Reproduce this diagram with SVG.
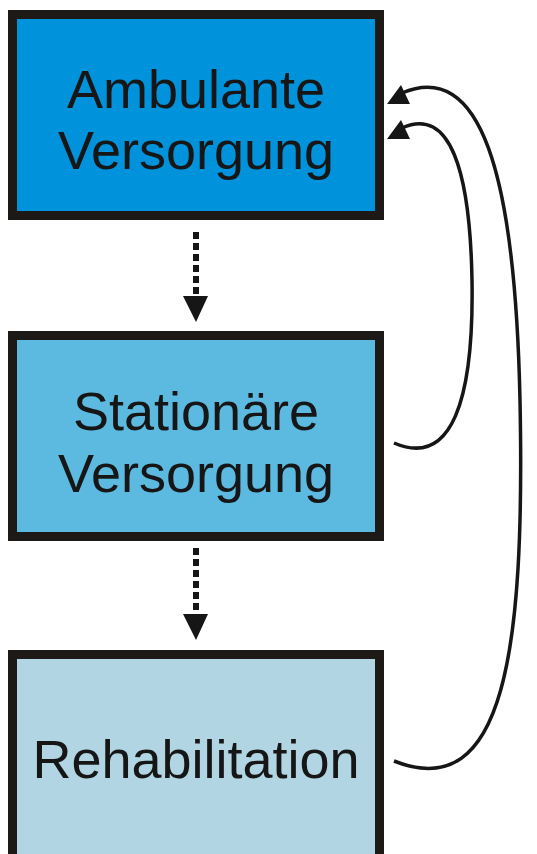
<svg xmlns="http://www.w3.org/2000/svg" width="537" height="854" viewBox="0 0 537 854">
<style>
.box{stroke:#1c1917;stroke-width:9}
.lbl{font-family:"Liberation Sans",Arial,sans-serif;font-size:54px;fill:#161616;text-anchor:middle}
.dash{stroke:#161616;stroke-width:6;stroke-dasharray:7 4;fill:none}
.curve{stroke:#161616;stroke-width:3.5;fill:none}
.head{fill:#161616}
</style>
<rect width="537" height="854" fill="#ffffff"/>
<g id="ambulante">
<rect class="box" x="12.5" y="14.5" width="367" height="201" fill="#0092DA"/>
<text class="lbl" x="196" y="108">Ambulante</text>
<text class="lbl" x="196" y="169">Versorgung</text>
</g>
<g id="stationaer">
<rect class="box" x="12.5" y="335.5" width="367" height="201" fill="#5CBAE1"/>
<text class="lbl" x="196" y="430">Stationäre</text>
<text class="lbl" x="196" y="492">Versorgung</text>
</g>
<g id="rehabilitation">
<rect class="box" x="12.5" y="654.5" width="367" height="210" fill="#B2D5E3"/>
<text class="lbl" x="196" y="778">Rehabilitation</text>
</g>
<g id="connectors">
<line class="dash" x1="196" y1="232" x2="196" y2="297"/>
<polygon class="head" points="183,296 208,296 196,322"/>
<line class="dash" x1="196" y1="548" x2="196" y2="615"/>
<polygon class="head" points="183,614 208,614 196,640"/>
<path class="curve" d="M 402,128 C 450,106 470,170 472,280 C 474,400 452,468 394,443"/>
<polygon class="head" points="387,139 410,139 401,120"/>
<path class="curve" d="M 402,93 C 480,60 515,170 520,400 C 525,650 505,805 394,761"/>
<polygon class="head" points="387,104 410,104 401,85"/>
</g>
</svg>
